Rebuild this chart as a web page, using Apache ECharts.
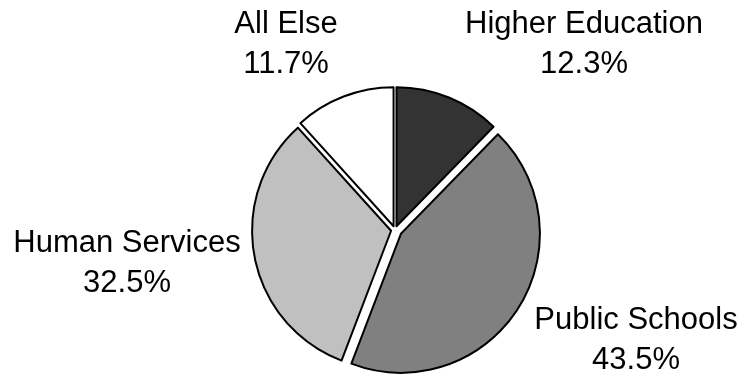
<!DOCTYPE html>
<html>
<head>
<meta charset="utf-8">
<script src="https://cdn.jsdelivr.net/npm/echarts@6/dist/echarts.min.js"></script>
<style>
  html, body { margin: 0; padding: 0; background: #fff; }
  #chart { width: 743px; height: 375px; }
</style>
</head>
<body>
<div id="chart"></div>
<script>
// Budget shares by area, in percent
const categories = ['Higher Education', 'Public Schools', 'Human Services', 'All Else'];
const shares = [12.3, 43.5, 32.5, 11.7];
const fills = ['#333333', '#808080', '#c0c0c0', '#ffffff'];

// Slice pulled further out from the rest
const pulled = 'Public Schools';

// Where each two-line label block is centred
const labelSpots = [[584, 44], [636, 340], [127, 263], [286, 44]];

const chart = echarts.init(document.getElementById('chart'), null, { renderer: 'canvas' });

const pieBase = {
  type: 'pie',
  center: [395, 230],
  radius: 139,
  startAngle: 90,
  clockwise: true,
  selectedMode: 'multiple',
  emphasis: { disabled: true },
  label: { show: false },
  labelLine: { show: false },
  silent: true
};

// Build one ring of slices; only those passing `keep` are painted
function slices(keep) {
  return categories.map((name, i) => ({
    name: name,
    value: shares[i],
    selected: true,
    itemStyle: keep(name)
      ? { color: fills[i], borderColor: '#000', borderWidth: 2 }
      : { color: 'rgba(0,0,0,0)', borderWidth: 0 }
  }));
}

chart.setOption({
  animation: false,
  series: [
    Object.assign({}, pieBase, {
      selectedOffset: 4,
      data: slices(n => n !== pulled)
    }),
    Object.assign({}, pieBase, {
      selectedOffset: 7,
      data: slices(n => n === pulled)
    })
  ],
  graphic: categories.map((name, i) => ({
    type: 'text',
    x: labelSpots[i][0],
    y: labelSpots[i][1],
    silent: true,
    style: {
      text: name + '\n' + shares[i].toFixed(1) + '%',
      fontFamily: 'Liberation Sans, Arial, sans-serif',
      fontSize: 31,
      lineHeight: 40,
      fill: '#000',
      align: 'center',
      verticalAlign: 'middle'
    }
  }))
});
</script>
</body>
</html>
